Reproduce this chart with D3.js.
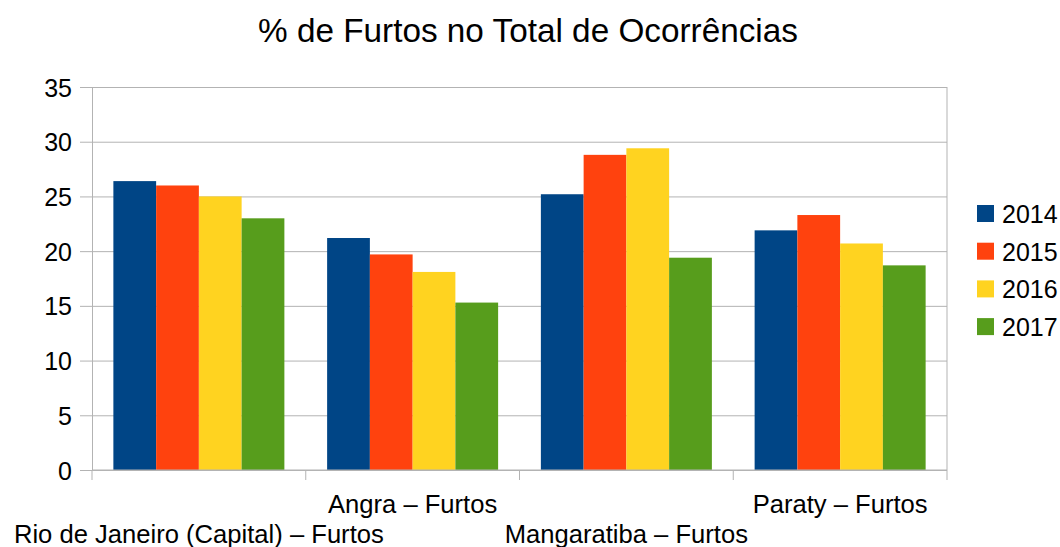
<!DOCTYPE html>
<html>
<head>
<meta charset="utf-8">
<script src="https://cdn.jsdelivr.net/npm/d3@7"></script>
<style>
    body { margin: 0; background: #fff; }
    text { font-family: "Liberation Sans", Arial, sans-serif; fill: #000; }
</style>
</head>
<body>
<div id="chart"></div>
<script>
const width = 1060;
const height = 547;

const margin = { top: 87, right: 113, bottom: 77, left: 92 };

// DATA
const categories = [
    "Rio de Janeiro (Capital) – Furtos",
    "Angra – Furtos",
    "Mangaratiba – Furtos",
    "Paraty – Furtos"
];
const years = ["2014", "2015", "2016", "2017"];
const values2014 = [26.4, 21.2, 25.2, 21.9];
const values2015 = [26.0, 19.7, 28.8, 23.3];
const values2016 = [25.0, 18.1, 29.4, 20.7];
const values2017 = [23.0, 15.3, 19.4, 18.7];
const yTicks = [0, 5, 10, 15, 20, 25, 30, 35];
const colors = ["#004586", "#ff420e", "#ffd320", "#579d1c"];

const series = [values2014, values2015, values2016, values2017];

const data = categories.map((c, i) => ({
    category: c,
    values: years.map((y, j) => ({ year: y, value: series[j][i] }))
}));

const svg = d3.select("#chart")
    .append("svg")
    .attr("width", width)
    .attr("height", height);

const x0 = d3.scaleBand()
    .domain(categories)
    .range([margin.left, width - margin.right])
    .paddingInner(0.2)
    .paddingOuter(0.1);

const x1 = d3.scaleBand()
    .domain(years)
    .range([0, x0.bandwidth()]);

const y = d3.scaleLinear()
    .domain([0, 35])
    .range([height - margin.bottom, margin.top]);

const color = d3.scaleOrdinal().domain(years).range(colors);

// TITLE
svg.append("text")
    .attr("x", 528)
    .attr("y", 42)
    .attr("text-anchor", "middle")
    .style("font-size", "33.3px")
    .text("% de Furtos no Total de Ocorrências");

// GRID
svg.append("g")
    .attr("transform", `translate(${margin.left},0)`)
    .call(
        d3.axisLeft(y)
            .tickValues(yTicks)
            .tickSize(-(width - margin.left - margin.right))
            .tickFormat("")
    )
    .call(g => g.select(".domain").remove())
    .call(g => g.selectAll("line").attr("stroke", "#b3b3b3"));

// right wall line
svg.append("line")
    .attr("x1", width - margin.right)
    .attr("x2", width - margin.right)
    .attr("y1", y(35))
    .attr("y2", y(0))
    .attr("stroke", "#b3b3b3");

// BARS
const groups = svg.selectAll(".group")
    .data(data)
    .enter()
    .append("g")
    .attr("transform", d => `translate(${x0(d.category)},0)`);

groups.selectAll("rect")
    .data(d => d.values)
    .enter()
    .append("rect")
    .attr("x", d => x1(d.year))
    .attr("y", d => y(d.value))
    .attr("width", x1.bandwidth())
    .attr("height", d => y(0) - y(d.value))
    .attr("fill", d => color(d.year));

// Y AXIS
svg.append("g")
    .attr("transform", `translate(${margin.left},0)`)
    .call(d3.axisLeft(y).tickValues(yTicks).tickSize(12).tickPadding(8))
    .call(g => g.select(".domain").attr("stroke", "#b3b3b3"))
    .call(g => g.selectAll("line").attr("stroke", "#b3b3b3"))
    .call(g => g.selectAll("text")
        .style("font-size", "25px")
        .attr("dy", "0.36em"));

// X AXIS
const xAxisG = svg.append("g")
    .attr("transform", `translate(0,${y(0)})`);

xAxisG.append("line")
    .attr("x1", margin.left)
    .attr("x2", width - margin.right)
    .attr("stroke", "#b3b3b3");

const step = x0.step();
const sepX = d3.range(categories.length + 1)
    .map(i => margin.left + i * step);

xAxisG.selectAll(".sep")
    .data(sepX)
    .enter()
    .append("line")
    .attr("x1", d => d)
    .attr("x2", d => d)
    .attr("y1", 0)
    .attr("y2", 10)
    .attr("stroke", "#b3b3b3");

xAxisG.selectAll(".label")
    .data(categories)
    .enter()
    .append("text")
    .attr("x", d => x0(d) + x0.bandwidth() / 2)
    .attr("y", (d, i) => i % 2 === 0 ? 73 : 43)
    .attr("text-anchor", "middle")
    .style("font-size", "25.6px")
    .text(d => d);

// LEGEND
const legend = svg.append("g")
    .attr("transform", "translate(977,205)");

const items = legend.selectAll(".item")
    .data(years)
    .enter()
    .append("g")
    .attr("transform", (d, i) => `translate(0,${i * 37.7})`);

items.append("rect")
    .attr("width", 17)
    .attr("height", 17)
    .attr("fill", d => color(d));

items.append("text")
    .attr("x", 25)
    .attr("y", 9)
    .attr("dy", "0.36em")
    .style("font-size", "25px")
    .text(d => d);
</script>
</body>
</html>
